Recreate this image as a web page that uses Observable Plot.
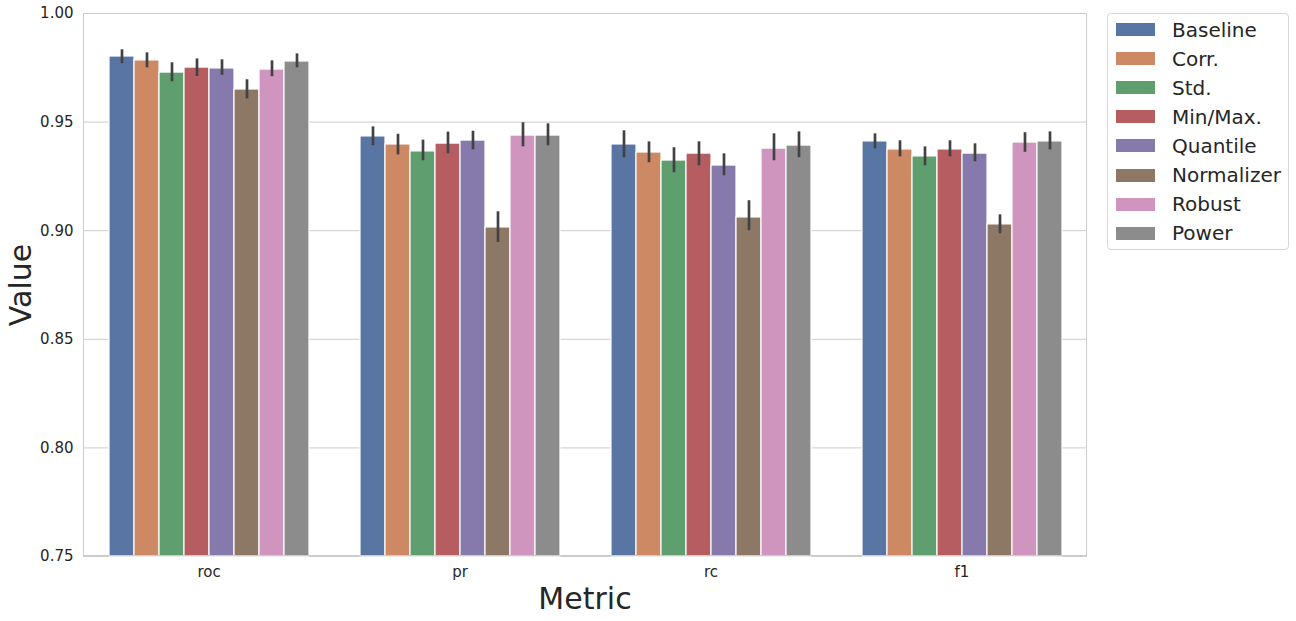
<!DOCTYPE html>
<html>
<head>
<meta charset="utf-8">
<script src="https://cdn.jsdelivr.net/npm/d3@7"></script>
<script src="https://cdn.jsdelivr.net/npm/@observablehq/plot@0.6"></script>
<style>
  body { margin: 0; background: #fff; font-family: "DejaVu Sans", sans-serif; color: #262626; }
  #wrap { position: relative; width: 1296px; height: 621px; overflow: hidden; }
  .lbl { position: absolute; font-size: 30px; color: #262626; white-space: nowrap; }
  #legend { position: absolute; left: 1107px; top: 13px; width: 182px; height: 237px; box-sizing: border-box;
            border: 1px solid #d6d6d6; border-radius: 4px; background: #fff; padding-top: 1px; }
  .row { display: flex; align-items: center; height: 29.1px; font-size: 20px; color: #262626; }
  .sw { width: 39px; height: 13px; margin-left: 8px; margin-right: 17px; }
</style>
</head>
<body>
<div id="wrap"></div>
<script>
const metrics = ["roc", "pr", "rc", "f1"];
const series = ["Baseline", "Corr.", "Std.", "Min/Max.", "Quantile", "Normalizer", "Robust", "Power"];
const colors = ["#5875a4", "#cc8963", "#5f9e6e", "#b55d60", "#857aab", "#8d7866", "#d095bf", "#8c8c8c"];
const yTicks = [0.75, 0.80, 0.85, 0.90, 0.95, 1.00];

// mean values per series, in metric order [roc, pr, rc, f1]
const baseline   = [0.9802, 0.9434, 0.9397, 0.9411];
const corr       = [0.9784, 0.9397, 0.9360, 0.9374];
const std        = [0.9728, 0.9365, 0.9323, 0.9342];
const minmax     = [0.9751, 0.9401, 0.9355, 0.9374];
const quantile   = [0.9747, 0.9415, 0.9300, 0.9355];
const normalizer = [0.9650, 0.9015, 0.9061, 0.9029];
const robust     = [0.9742, 0.9438, 0.9378, 0.9406];
const power      = [0.9779, 0.9438, 0.9392, 0.9411];

// error bar lower / upper bounds
const baselineLo   = [0.9769, 0.9391, 0.9336, 0.9377];
const baselineHi   = [0.9833, 0.9478, 0.9460, 0.9446];
const corrLo       = [0.9750, 0.9349, 0.9313, 0.9340];
const corrHi       = [0.9819, 0.9444, 0.9409, 0.9414];
const stdLo        = [0.9686, 0.9322, 0.9267, 0.9299];
const stdHi        = [0.9773, 0.9417, 0.9382, 0.9386];
const minmaxLo     = [0.9710, 0.9354, 0.9299, 0.9340];
const minmaxHi     = [0.9791, 0.9454, 0.9409, 0.9414];
const quantileLo   = [0.9715, 0.9372, 0.9253, 0.9317];
const quantileHi   = [0.9787, 0.9458, 0.9354, 0.9400];
const normalizerLo = [0.9607, 0.8946, 0.9000, 0.8986];
const normalizerHi = [0.9695, 0.9087, 0.9138, 0.9073];
const robustLo     = [0.9709, 0.9386, 0.9322, 0.9361];
const robustHi     = [0.9782, 0.9497, 0.9446, 0.9451];
const powerLo      = [0.9750, 0.9391, 0.9336, 0.9372];
const powerHi      = [0.9814, 0.9492, 0.9455, 0.9455];

const values = [baseline, corr, std, minmax, quantile, normalizer, robust, power];
const los = [baselineLo, corrLo, stdLo, minmaxLo, quantileLo, normalizerLo, robustLo, powerLo];
const his = [baselineHi, corrHi, stdHi, minmaxHi, quantileHi, normalizerHi, robustHi, powerHi];

const data = [];
series.forEach((s, i) => metrics.forEach((m, j) => {
  data.push({metric: m, series: s, value: values[i][j], lo: los[i][j], hi: his[i][j]});
}));

const chart = Plot.plot({
  width: 1296,
  height: 621,
  marginLeft: 83,
  marginRight: 209,
  marginTop: 13,
  marginBottom: 65,
  style: {fontFamily: "DejaVu Sans, sans-serif", fontSize: "15px", color: "#262626", background: "#fff"},
  fx: {domain: metrics, padding: 0, label: null, axis: null},
  x: {domain: series, paddingInner: 0, paddingOuter: 1, axis: null},
  y: {domain: [0.75, 1.0]},
  color: {domain: series, range: colors},
  marks: [
    Plot.gridY(yTicks, {stroke: "#cccccc", strokeOpacity: 1, strokeWidth: 1}),
    Plot.barY(data, {fx: "metric", x: "series", y1: yTicks[0], y2: "value", fill: "series", stroke: "white", strokeWidth: 1.2}),
    Plot.ruleX(data, {fx: "metric", x: "series", y1: "lo", y2: "hi", stroke: "#424242", strokeWidth: 2.7}),
    Plot.axisY(yTicks, {tickSize: 0, tickPadding: 10, tickFormat: d3.format(".2f"), label: null, fontSize: 15}),
    Plot.axisFx({anchor: "bottom", tickSize: 0, tickPadding: 10, label: null, fontSize: 15})
  ]
});
const wrap = document.getElementById("wrap");
wrap.appendChild(chart);

// plot area border (whitegrid style frame)
const border = document.createElement("div");
Object.assign(border.style, {position: "absolute", left: "83px", top: "13px", width: "1004px", height: "543px",
  border: "1px solid #cccccc", boxSizing: "border-box", pointerEvents: "none"});
wrap.appendChild(border);

const yl = document.createElement("div");
yl.className = "lbl"; yl.textContent = "Value";
Object.assign(yl.style, {left: "20px", top: "285px", transform: "translate(-50%,-50%) rotate(-90deg)"});
wrap.appendChild(yl);

const xl = document.createElement("div");
xl.className = "lbl"; xl.textContent = "Metric";
Object.assign(xl.style, {left: "585px", top: "598px", transform: "translate(-50%,-50%)"});
wrap.appendChild(xl);

const legend = document.createElement("div");
legend.id = "legend";
series.forEach((s, i) => {
  const r = document.createElement("div"); r.className = "row";
  const sw = document.createElement("div"); sw.className = "sw"; sw.style.background = colors[i];
  const t = document.createElement("span"); t.textContent = s;
  r.appendChild(sw); r.appendChild(t); legend.appendChild(r);
});
wrap.appendChild(legend);
</script>
</body>
</html>
